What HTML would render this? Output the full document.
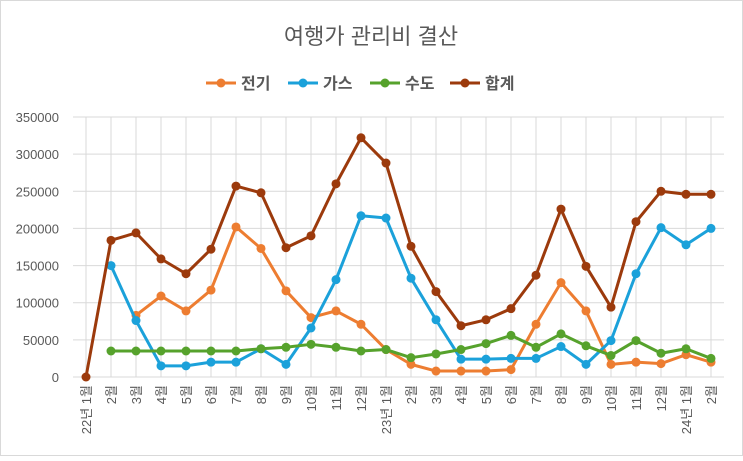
<!DOCTYPE html>
<html><head><meta charset="utf-8"><style>
body{margin:0;background:#fff;}
svg text{font-family:"Liberation Sans","Noto Sans CJK KR",sans-serif;}
</style></head><body>
<svg id="chart" width="743" height="456">
<rect x="0.5" y="0.5" width="742" height="455" fill="#fff" stroke="#d9d9d9"/>
<text x="371" y="44" text-anchor="middle" font-size="22" fill="#595959">여행가 관리비 결산</text>
<g id="grid"></g>
<g id="yticks"></g>
<g id="xticks"></g>
<g id="series"></g>
<g id="legend"></g>
</svg>
<script>
const categories=["22년 1월","2월","3월","4월","5월","6월","7월","8월","9월","10월","11월","12월","23년 1월","2월","3월","4월","5월","6월","7월","8월","9월","10월","11월","12월","24년 1월","2월"];
const elec=[null,null,83000,109000,89000,117000,202000,173000,116000,80000,89000,71000,37000,17000,8000,8000,8000,10000,71000,127000,89000,17000,20000,18000,30000,20000];
const gas=[null,150000,76000,15000,15000,20000,20000,38000,17000,66000,131000,217000,214000,133000,77000,24000,24000,25000,25000,41000,17000,49000,139000,201000,178000,200000];
const water=[null,35000,35000,35000,35000,35000,35000,38000,40000,44000,40000,35000,37000,26000,31000,37000,45000,56000,40000,58000,42000,29000,49000,32000,38000,25000];
const total=[0,184000,194000,159000,139000,172000,257000,248000,174000,190000,260000,322000,288000,176000,115000,69000,77000,92000,137000,226000,149000,94000,209000,250000,246000,246000];
const yTicks=[0,50000,100000,150000,200000,250000,300000,350000];
const seriesNames=["전기","가스","수도","합계"];
const NS="http://www.w3.org/2000/svg";
const x0=86,dx=25,yBase=377,yTop=117,yMax=350000;
const xs=i=>x0+dx*i;
const ys=v=>yBase-(v/yMax)*(yBase-yTop);
function mk(tag,attrs,parent){const e=document.createElementNS(NS,tag);for(const k in attrs)e.setAttribute(k,attrs[k]);parent.appendChild(e);return e;}
const grid=document.getElementById('grid'),yt=document.getElementById('yticks'),xt=document.getElementById('xticks'),sg=document.getElementById('series'),lg=document.getElementById('legend');
yTicks.forEach(t=>{
  const l=mk('line',{x1:73,x2:724,y1:ys(t),y2:ys(t),stroke:'#d9d9d9','stroke-width':1},grid);
  
  
  const tx=mk('text',{x:59,y:ys(t)+5,'text-anchor':'end','font-size':13,fill:'#595959'},yt);
  tx.textContent=t;
  
  
});
categories.forEach((c,i)=>{
  const l=mk('line',{x1:xs(i),x2:xs(i),y1:yTop,y2:yBase,stroke:'#d9d9d9','stroke-width':1},grid);
  
  
  const tx=mk('text',{x:0,y:0,'text-anchor':'end','font-size':13,fill:'#595959',transform:`translate(${xs(i)+5},${yBase+8}) rotate(-90)`},xt);
  tx.textContent=c;
  
  
});
const colors=["#ED7D31","#1BA1DA","#56A22C","#9C3A0C"];
const data=[elec,gas,water,total];
data.forEach((arr,si)=>{
  const g=mk('g',{},sg);
  
  
  let d='';
  arr.forEach((v,i)=>{if(v===null)return;d+=(d?'L':'M')+xs(i)+','+ys(v);});
  const p=mk('path',{d:d,fill:'none',stroke:colors[si],'stroke-width':3,'stroke-linejoin':'round'},g);
  
  
  arr.forEach((v,i)=>{if(v===null)return;
    const c=mk('circle',{cx:xs(i),cy:ys(v),r:4.5,fill:colors[si]},g);
    
    
  });
});
const lx=[206,288,370,450];
seriesNames.forEach((n,i)=>{
  const g=mk('g',{},lg);
  
  
  mk('line',{x1:lx[i],x2:lx[i]+30,y1:83,y2:83,stroke:colors[i],'stroke-width':3},g);
  mk('circle',{cx:lx[i]+15,cy:83,r:4.5,fill:colors[i]},g);
  const t=mk('text',{x:lx[i]+35,y:89,'font-size':16,'font-weight':'bold',fill:'#595959'},g);
  t.textContent=n;
});
</script>
</body></html>
